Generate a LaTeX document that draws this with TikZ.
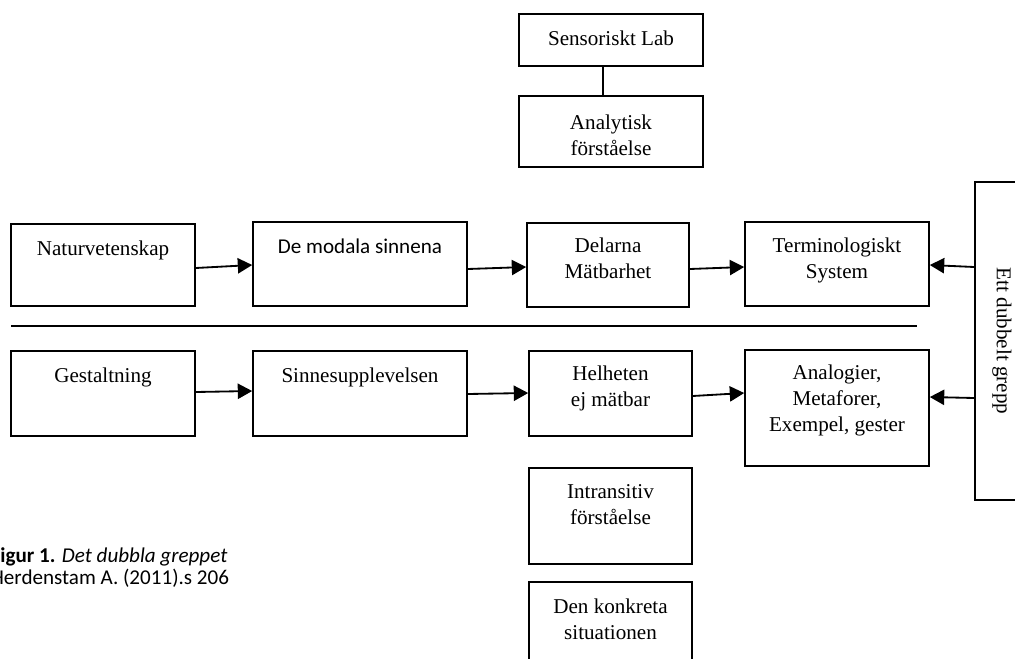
\documentclass[tikz,border=0pt]{standalone}
\usepackage{fontspec}
\setmainfont{Liberation Serif}
\newfontfamily\calfont{Carlito}
\usetikzlibrary{arrows.meta}

\tikzset{
  box/.style={draw, line width=1.1pt, inner sep=0pt, align=center, anchor=base,
    font=\fontsize{15}{18.2}\selectfont},
  arr/.style={-{Triangle[length=0.36cm,width=0.38cm]}, line width=1.3pt},
  note/.style={font=\calfont\fontsize{15}{15}\selectfont, inner sep=0pt},
}

\begin{document}
\begin{tikzpicture}[x=0.025cm, y=-0.025cm]
  \useasboundingbox (0,0) rectangle (1015,659);
  \clip (0,0) rectangle (1015,659);

  % Heading, cut off by the page
  \node[note, font=\calfont\fontsize{19}{19}\selectfont, anchor=base west] (head) at (79,-5) {greppet};

  % Column above
  \node[box, minimum width=4.6cm, text height=0.775cm, text depth=0.525cm] (lab) at (611,45) {Sensoriskt Lab};
  \node[box, minimum width=4.6cm, text height=1.475cm, text depth=0.3cm] (ana) at (611,155) {Analytisk\\förståelse};
  \draw[line width=1.1pt] ([xshift=-0.2cm]lab.south) -- ([xshift=-0.2cm]ana.north);

  % Upper row
  \node[box, minimum width=4.6cm, text height=0.775cm, text depth=1.275cm] (nat) at (103,255) {Naturvetenskap};
  \node[box, font=\calfont\fontsize{15}{18.2}\selectfont, minimum width=5.35cm, text height=0.775cm, text depth=1.325cm] (mod) at (360,253) {De modala sinnena};
  \node[box, minimum width=4.05cm, text height=1.375cm, text depth=0.725cm] (del) at (608,278) {Delarna\\Mätbarhet};
  \node[box, minimum width=4.6cm, text height=1.4cm, text depth=0.7cm] (ter) at (837,278) {Terminologiskt\\System};

  % Divider
  \draw[line width=1.1pt] (11,326) -- (917,326);

  % Lower row
  \node[box, minimum width=4.6cm, text height=0.775cm, text depth=1.35cm] (ges) at (103,382) {Gestaltning};
  \node[box, minimum width=5.35cm, text height=0.775cm, text depth=1.35cm] (sin) at (360,382) {Sinnesupplevelsen};
  \node[box, minimum width=4.075cm, text height=1.375cm, text depth=0.75cm] (hel) at (610.5,406) {Helheten\\ej mätbar};
  \node[box, minimum width=4.6cm, text height=2.025cm, text depth=0.875cm] (anl) at (837,431) {Analogier,\\Metaforer,\\Exempel, gester};

  % Column below
  \node[box, minimum width=4.075cm, text height=1.4cm, text depth=1cm] (int) at (610.5,524) {Intransitiv\\förståelse};
  \node[box, minimum width=4.075cm, text height=1.425cm, text depth=0.825cm] (kon) at (610.5,639) {Den konkreta\\situationen};

  % Side box
  \node[box, anchor=center, rotate=-90, minimum width=7.95cm, minimum height=1.35cm] (ett) at (1002,341) {Ett dubbelt grepp};

  % Arrows
  \draw[arr] (nat.east |- 0,268) -- (mod.west |- 0,265);
  \draw[arr] (mod.east |- 0,269) -- (del.west |- 0,267);
  \draw[arr] (del.east |- 0,269) -- (ter.west |- 0,267);
  \draw[arr] (ett.south |- 0,267) -- (ter.east |- 0,265);
  \draw[arr] (ges.east |- 0,392) -- (sin.west |- 0,391);
  \draw[arr] (sin.east |- 0,394) -- (hel.west |- 0,393);
  \draw[arr] (hel.east |- 0,396) -- (anl.west |- 0,393);
  \draw[arr] (ett.south |- 0,398) -- (anl.east |- 0,397);

  % Caption
  \node[note, align=left, anchor=base west] (cap) at (-9.5,584) {\textbf{Figur 1.} \textit{Det dubbla greppet}\\Herdenstam A. (2011).s 206};
\end{tikzpicture}
\end{document}
